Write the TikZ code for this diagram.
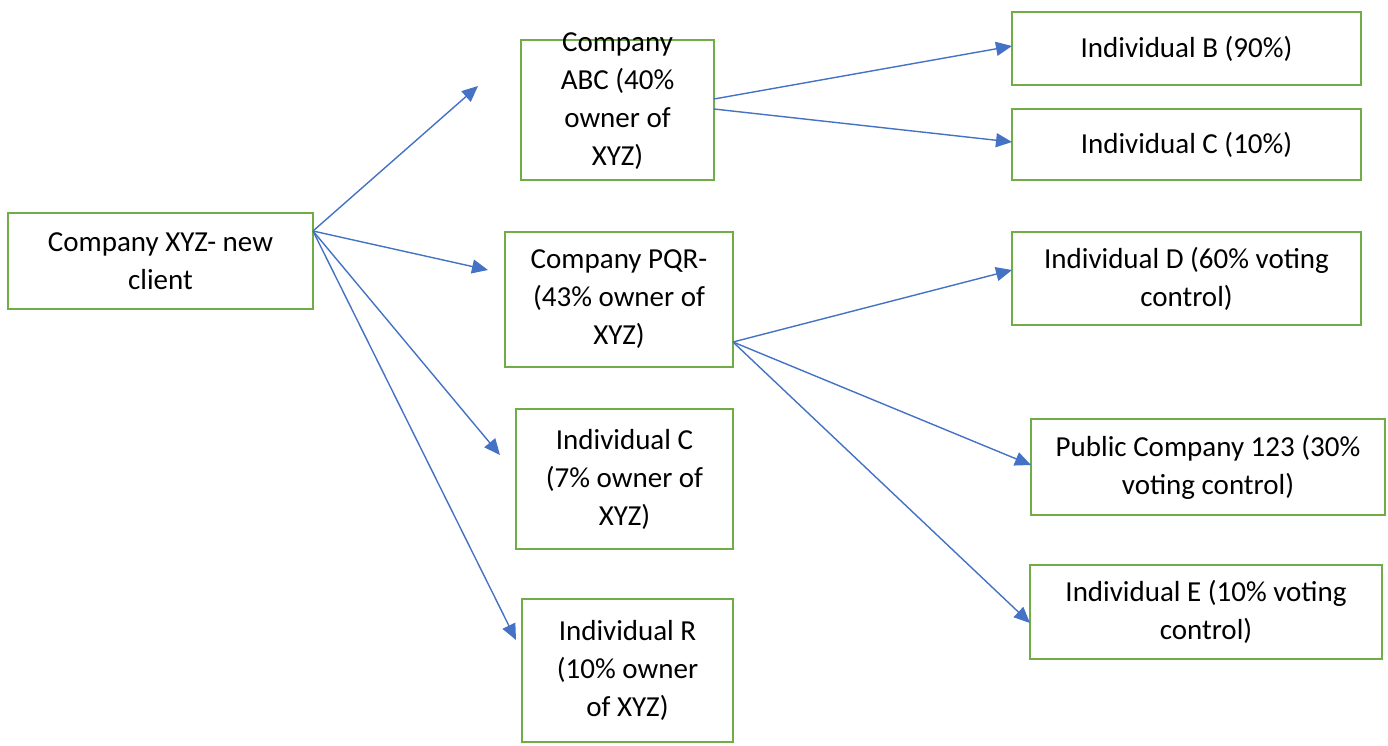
\documentclass[tikz,border=0pt]{standalone}
\usepackage{fontspec}
\setmainfont{Carlito}
\usetikzlibrary{arrows.meta}
\definecolor{boxgreen}{HTML}{70AD47}
\definecolor{arrowblue}{HTML}{4472C4}
\begin{document}
\begin{tikzpicture}[x=1pt,y=-1pt,
  box/.style={draw=boxgreen,line width=2.6pt,fill=white,inner sep=0pt,outer sep=0pt,
    align=center,font=\fontsize{29}{38}\selectfont,text=black},
  boxtext/.style={inner sep=0pt,outer sep=0pt,align=center,font=\fontsize{29}{38}\selectfont,text=black},
  link/.style={draw=arrowblue,line width=1.4pt,-{Triangle[length=16pt,width=14pt]}}]
\useasboundingbox (0,0) rectangle (1388,745);
\node[box,minimum width=305pt,minimum height=96pt] (xyz) at (160.5,261) {Company XYZ- new\\client};
\node[box,minimum width=193pt,minimum height=140pt] (abc) at (617.5,110) {};
\node[boxtext] (abctext) at (617.5,101) {Company\\ABC (40\%\\owner of\\XYZ)};
\node[box,minimum width=228pt,minimum height=135pt] (pqr) at (619,299.5) {Company PQR-\\(43\% owner of\\XYZ)};
\node[box,minimum width=217pt,minimum height=140pt] (indc7) at (624.5,479) {Individual C\\(7\% owner of\\XYZ)};
\node[box,minimum width=211pt,minimum height=143pt] (indr) at (627.5,670.5) {Individual R\\(10\% owner\\of XYZ)};
\node[box,minimum width=349pt,minimum height=73pt] (indb) at (1186.5,48.5) {Individual B (90\%)};
\node[box,minimum width=349pt,minimum height=71pt] (indc10) at (1186.5,144.5) {Individual C (10\%)};
\node[box,minimum width=349pt,minimum height=93pt] (indd) at (1186.5,278.5) {Individual D (60\% voting\\control)};
\node[box,minimum width=354pt,minimum height=96pt] (pub) at (1208,467) {Public Company 123 (30\%\\voting control)};
\node[box,minimum width=352pt,minimum height=94pt] (inde) at (1206,612) {Individual E (10\% voting\\control)};
\coordinate (tabc) at (478,86);
\coordinate (tpqr) at (488,270);
\coordinate (tc7) at (500,455);
\coordinate (tr) at (516,640);
\draw[link] ([yshift=30pt]xyz.east) -- (tabc);
\draw[link] ([yshift=30pt]xyz.east) -- (tpqr);
\draw[link] ([yshift=30pt]xyz.east) -- (tc7);
\draw[link] ([yshift=30pt]xyz.east) -- (tr);
\draw[link] ([yshift=11pt]abc.east) -- ([yshift=2.5pt]indb.west);
\draw[link] ([yshift=1pt]abc.east) -- ([yshift=2.5pt]indc10.west);
\draw[link] ([yshift=-42.5pt]pqr.east) -- ([yshift=8.5pt]indd.west);
\draw[link] ([yshift=-42.5pt]pqr.east) -- ([yshift=2pt]pub.west);
\draw[link] ([yshift=-42.5pt]pqr.east) -- ([yshift=-11pt]inde.west);
\end{tikzpicture}
\end{document}
